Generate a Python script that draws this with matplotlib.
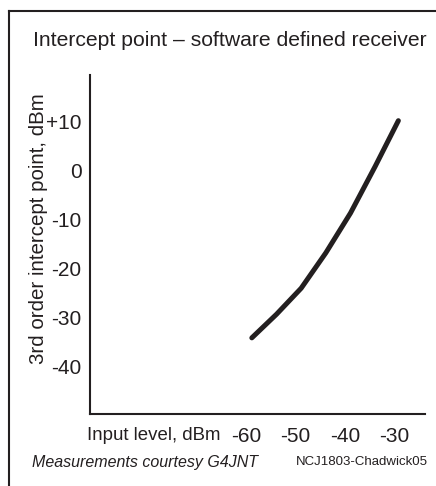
import matplotlib
matplotlib.use('Agg')
import matplotlib.pyplot as plt
import matplotlib.transforms as mtransforms
from matplotlib.lines import Line2D

plt.rcParams['font.family'] = ['Liberation Sans', 'DejaVu Sans']

# data
input_level = [-60, -55, -50, -45, -40, -35, -30.3]
intercept = [-34.1, -29.3, -24.0, -16.8, -8.7, 0.8, 10.1]

x_ticks = [-60, -50, -40, -30]
x_tick_labels = ['-60', '-50', '-40', '-30']
y_ticks = [10, 0, -10, -20, -30, -40]
y_tick_labels = ['+10', '0', '-10', '-20', '-30', '-40']

ink = '#231f20'

fig = plt.figure(figsize=(4.36, 4.86), dpi=100)
ax = fig.add_axes([90 / 436, 1 - 414 / 486, (425 - 90) / 436, (414 - 75) / 486])

ax.plot(input_level, intercept, color=ink, linewidth=3.6, solid_capstyle='round')

ax.set_xlim(-92.8, -24.9)
ax.set_ylim(-49.6, 19.4)

ax.set_xticks(x_ticks)
ax.set_xticklabels(x_tick_labels)
ax.set_yticks(y_ticks)
ax.set_yticklabels(y_tick_labels)
ax.tick_params(axis='both', length=0, labelsize=15, colors=ink)
ax.tick_params(axis='x', pad=9)
ax.tick_params(axis='y', pad=6)

# the digits, not the whole label, sit over the tick value
shift = mtransforms.ScaledTranslation(-5.5 / 100, 0, fig.dpi_scale_trans)
for lbl in ax.get_xticklabels():
    lbl.set_transform(lbl.get_transform() + shift)

for side in ['top', 'right']:
    ax.spines[side].set_visible(False)
for side in ['left', 'bottom']:
    ax.spines[side].set_linewidth(1.5)
    ax.spines[side].set_color(ink)

# y label placed by hand, rotated
fig.text(38 / 436, 1 - 229 / 486, '3rd order intercept point, dBm', fontsize=14.8,
         color=ink, rotation=90, ha='center', va='center')

# x label sits on the same line as the tick labels
fig.text(154 / 436, 1 - 435 / 486, 'Input level, dBm', fontsize=13.4, color=ink,
         ha='center', va='center')

fig.text(33 / 436, 1 - 41 / 486, 'Intercept point \u2013 software defined receiver',
         fontsize=15.2, color=ink, ha='left', va='center')

fig.text(32 / 436, 1 - 462 / 486, 'Measurements courtesy G4JNT', fontsize=11.5,
         style='italic', color=ink, ha='left', va='center')
fig.text(428 / 436, 1 - 462 / 486, 'NCJ1803-Chadwick05', fontsize=9.5,
         color=ink, ha='right', va='center')

# frame lines on the left and top
fig.add_artist(Line2D([9 / 436, 9 / 436], [0, 1 - 11 / 486],
                      transform=fig.transFigure, color=ink, linewidth=1.5))
fig.add_artist(Line2D([9 / 436, 1], [1 - 11 / 486, 1 - 11 / 486],
                      transform=fig.transFigure, color=ink, linewidth=1.5))

fig.savefig('out.png', dpi=100)
